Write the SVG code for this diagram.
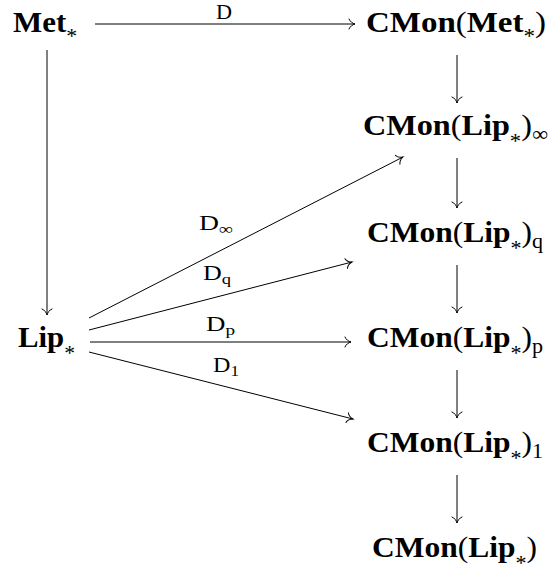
<svg xmlns="http://www.w3.org/2000/svg" width="550" height="575" viewBox="0 0 550 575">
<defs>
<marker id="to" viewBox="-8 -7 10 14" refX="0" refY="0" markerWidth="10" markerHeight="14" markerUnits="userSpaceOnUse" orient="auto" overflow="visible">
<path d="M-6,-5 C-5,-2.2 -2.2,-0.6 0,0 C-2.2,0.6 -5,2.2 -6,5" fill="none" stroke="#000" stroke-width="1" stroke-linecap="round"/>
</marker>
</defs>
<style>
.n{font-family:"Liberation Serif","Times New Roman",serif;font-size:30px;fill:#000}
.b{font-weight:bold}
.s{font-size:21px;font-weight:normal}
.l{font-family:"Liberation Serif","Times New Roman",serif;font-size:21px;fill:#000}
.ls{font-size:15px}
.a{fill:none;stroke:#000;stroke-width:1;marker-end:url(#to)}
</style>
<rect width="550" height="575" fill="#fff"/>
<g id="connectors">
<path class="a" d="M95,24 H355"/>
<path class="a" d="M47,50 V315"/>
<path class="a" d="M457,55 V103"/>
<path class="a" d="M457,158 V208"/>
<path class="a" d="M457,265 V313"/>
<path class="a" d="M457,370 V418"/>
<path class="a" d="M457,475 V523"/>
<path class="a" d="M89,318 L403,157"/>
<path class="a" d="M89,330 L352,262"/>
<path class="a" d="M90,342 H351"/>
<path class="a" d="M89,352 L353,419"/>
<text class="l" x="216" y="19" textLength="16" lengthAdjust="spacingAndGlyphs">D</text>
<text class="l" x="199" y="230" textLength="34" lengthAdjust="spacingAndGlyphs">D<tspan class="ls" dy="4">∞</tspan></text>
<text class="l" x="203" y="280" textLength="28" lengthAdjust="spacingAndGlyphs">D<tspan class="ls" dy="4">q</tspan></text>
<text class="l" x="206" y="331" textLength="29" lengthAdjust="spacingAndGlyphs">D<tspan class="ls" dy="4">p</tspan></text>
<text class="l" x="213" y="372" textLength="26" lengthAdjust="spacingAndGlyphs">D<tspan class="ls" dy="4">1</tspan></text>
</g>
<g id="met"><text class="n" x="13" y="32" textLength="64" lengthAdjust="spacingAndGlyphs"><tspan class="b">Met</tspan><tspan class="s" dy="11">*</tspan></text></g>
<g id="lip"><text class="n" x="18" y="347" textLength="57" lengthAdjust="spacingAndGlyphs"><tspan class="b">Lip</tspan><tspan class="s" dy="13">*</tspan></text></g>
<g id="cmon-met"><text class="n" x="366" y="32" textLength="180" lengthAdjust="spacingAndGlyphs"><tspan class="b">CMon</tspan>(<tspan class="b">Met</tspan><tspan class="s" dy="11">*</tspan><tspan dy="-11">)</tspan></text></g>
<g id="cmon-lip-inf"><text class="n" x="363" y="135" textLength="185" lengthAdjust="spacingAndGlyphs"><tspan class="b">CMon</tspan>(<tspan class="b">Lip</tspan><tspan class="s" dy="13">*</tspan><tspan dy="-13">)</tspan><tspan class="s" dy="6">∞</tspan></text></g>
<g id="cmon-lip-q"><text class="n" x="367" y="242" textLength="176" lengthAdjust="spacingAndGlyphs"><tspan class="b">CMon</tspan>(<tspan class="b">Lip</tspan><tspan class="s" dy="13">*</tspan><tspan dy="-13">)</tspan><tspan class="s" dy="6">q</tspan></text></g>
<g id="cmon-lip-p"><text class="n" x="367" y="347" textLength="176" lengthAdjust="spacingAndGlyphs"><tspan class="b">CMon</tspan>(<tspan class="b">Lip</tspan><tspan class="s" dy="13">*</tspan><tspan dy="-13">)</tspan><tspan class="s" dy="6">p</tspan></text></g>
<g id="cmon-lip-1"><text class="n" x="367" y="452" textLength="176" lengthAdjust="spacingAndGlyphs"><tspan class="b">CMon</tspan>(<tspan class="b">Lip</tspan><tspan class="s" dy="13">*</tspan><tspan dy="-13">)</tspan><tspan class="s" dy="6">1</tspan></text></g>
<g id="cmon-lip"><text class="n" x="372" y="557" textLength="165" lengthAdjust="spacingAndGlyphs"><tspan class="b">CMon</tspan>(<tspan class="b">Lip</tspan><tspan class="s" dy="13">*</tspan><tspan dy="-13">)</tspan></text></g>
</svg>
